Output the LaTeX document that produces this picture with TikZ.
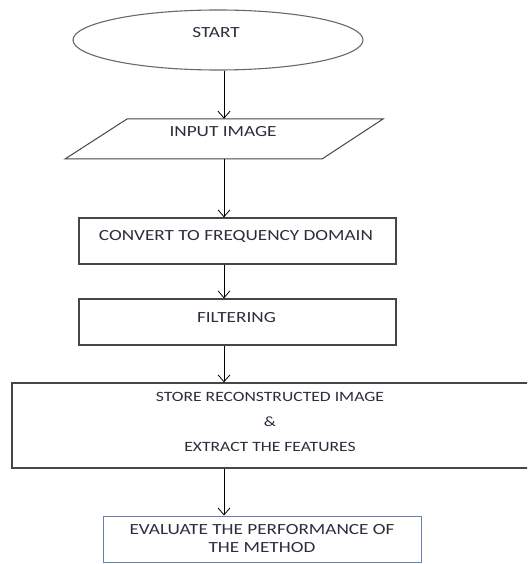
\documentclass[tikz,border=0pt]{standalone}
\usepackage{fontspec}
\setmainfont{Carlito}[FakeStretch=1.24]
\usetikzlibrary{shapes.geometric,arrows.meta}
\definecolor{txtc}{RGB}{45,45,60}
\definecolor{edgec}{RGB}{70,70,70}
\definecolor{ellc}{RGB}{105,105,105}
\definecolor{bluec}{RGB}{105,128,178}
\tikzset{
  box/.style={draw=edgec, line width=1.2pt, rectangle, inner sep=0pt},
  txt/.style={text=txtc, inner sep=0pt, font=\fontsize{15.5}{18}\selectfont, anchor=base},
  arr/.style={draw=black, line width=0.9pt, -{Straight Barb[length=7pt,width=12pt,line width=0.8pt]}},
}
\begin{document}
\begin{tikzpicture}[x=1pt,y=-1pt]
\useasboundingbox (0,0) rectangle (527,564);
\clip (0,0) rectangle (527,564);
\fill[white] (0,0) rectangle (527,564);
\coordinate (spine) at (224,0);
% shapes
\node[draw=ellc, line width=1.1pt, ellipse, minimum width=290, minimum height=60, inner sep=0pt] (start) at (218,40) {};
\node[rectangle, minimum width=257, minimum height=40, inner sep=0pt] (input) at (224,139) {};
\draw[draw=edgec, line width=1pt] (127,119) -- (383,119) -- (322,159) -- (65,159) -- cycle;
\node[box, minimum width=317, minimum height=46] (convert) at (237.5,241) {};
\node[box, minimum width=317, minimum height=46] (filter) at (237.5,322) {};
\node[box, minimum width=520, minimum height=85] (store) at (272,425.5) {};
\node[draw=bluec, line width=1pt, rectangle, inner sep=0pt, minimum width=318, minimum height=46] (eval) at (262,539) {};
% texts
\node[txt] (startT) at (216,38) {START};
\node[txt] (inputT) at (223,137) {INPUT IMAGE};
\node[txt] (convertT) at (236,240) {CONVERT TO FREQUENCY DOMAIN};
\node[txt] (filterT) at (236.5,322) {FILTERING};
\node[txt, anchor=center, align=center, font=\fontsize{14.2}{25}\selectfont] (storeT) at (270,422) {STORE RECONSTRUCTED IMAGE\\\&\\EXTRACT THE FEATURES};
\node[txt, anchor=center, align=center] (evalT) at (262,539) {EVALUATE THE PERFORMANCE OF\\THE METHOD};
% connectors
\draw[arr] (start.south -| spine) -- (input.north -| spine);
\draw[arr] (input.south -| spine) -- (convert.north -| spine);
\draw[arr] (convert.south -| spine) -- (filter.north -| spine);
\draw[arr] (filter.south -| spine) -- (store.north -| spine);
\draw[arr] (store.south -| spine) -- (eval.north -| spine);
\end{tikzpicture}
\end{document}
